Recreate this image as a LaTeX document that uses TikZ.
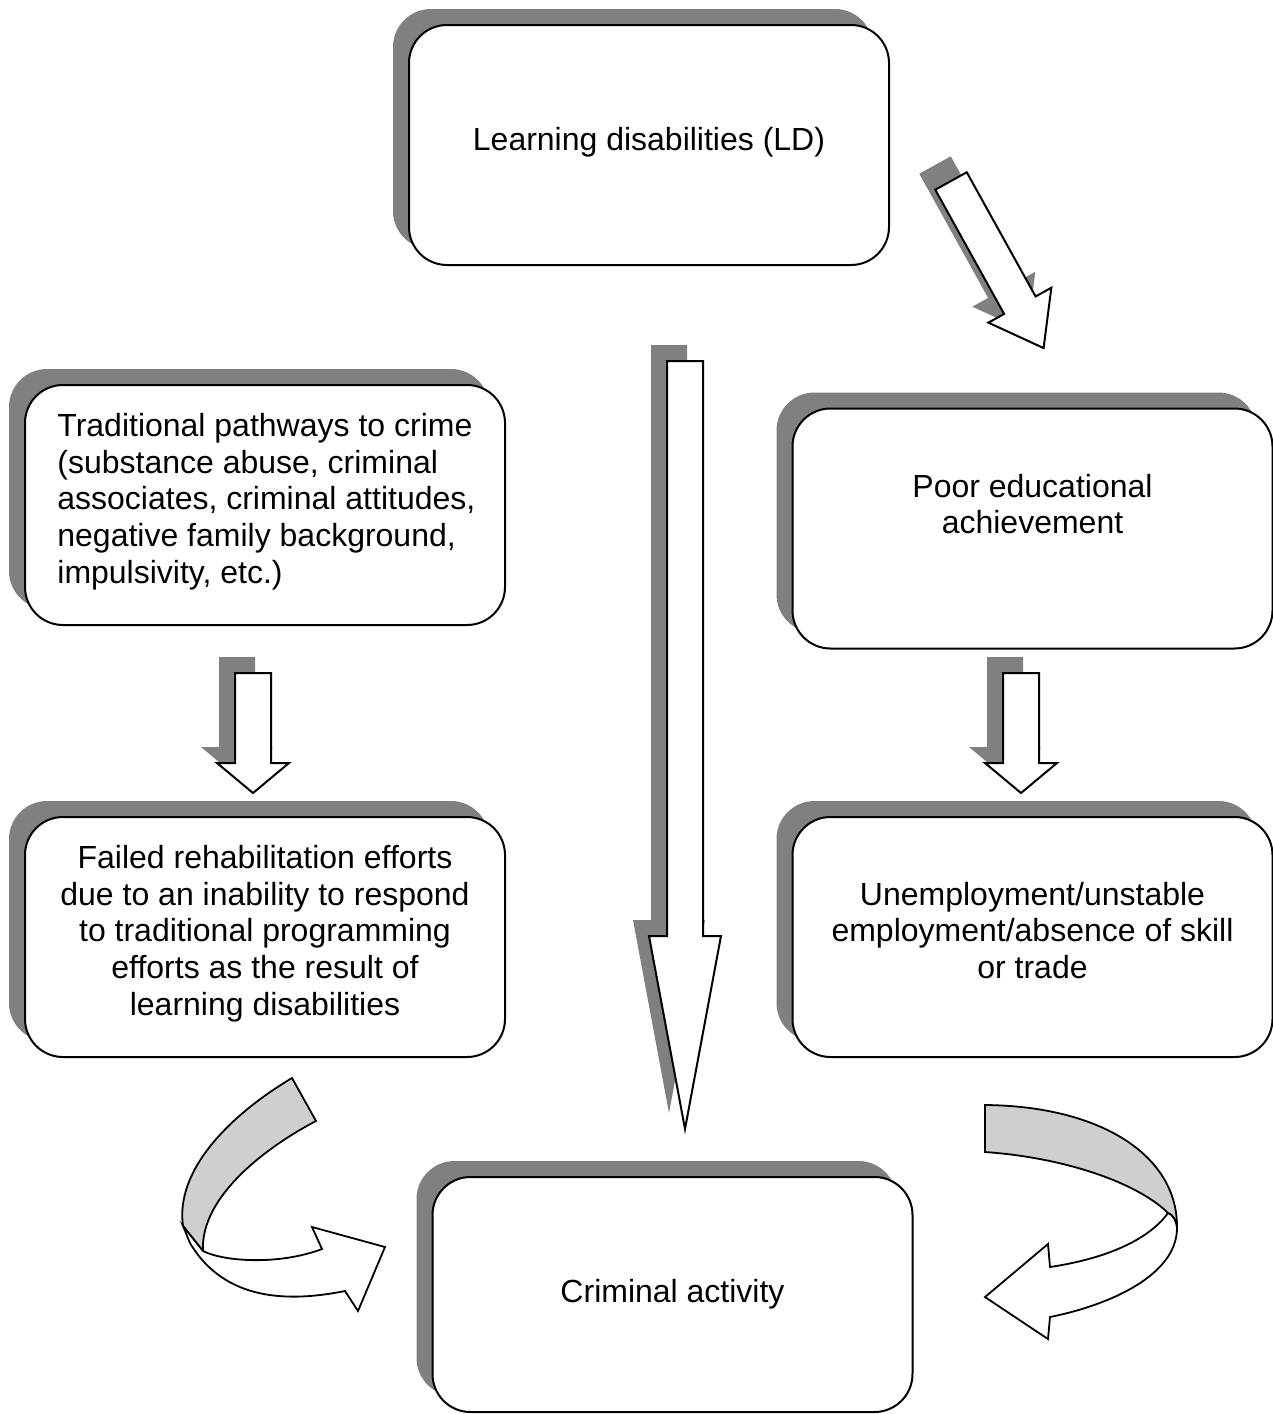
\documentclass[tikz,border=0pt]{standalone}
\usepackage{fontspec}
\setmainfont{Liberation Sans}
\usetikzlibrary{shadows}

\definecolor{shadowgray}{HTML}{808080}
\definecolor{bandgray}{HTML}{CFCFCF}

% block arrow: start point, angle, shaft length, head length
\newcommand\blockarrow[4]{%
  \fill[shadowgray,shift={#1},shift={(-16,-16)},rotate=#2]
    (-18,0) -- (-18,#3) -- (-36,#3) -- (0,#3+#4) -- (36,#3) -- (18,#3) -- (18,0) -- cycle;
  \draw[arrowbody,shift={#1},rotate=#2]
    (-18,0) -- (-18,#3) -- (-36,#3) -- (0,#3+#4) -- (36,#3) -- (18,#3) -- (18,0) -- cycle;
}

\begin{document}
\begin{tikzpicture}[x=0.5pt, y=-0.5pt,
      every node/.append style={font=\fontsize{16}{18.35}\selectfont},
      arrowbody/.style={draw, fill=white, line width=1pt, line join=miter},
      curl/.style={draw, line width=0.9pt, line join=miter}]
    \tikzstyle{box} = [draw, line width=1pt, fill=white, rounded corners=19pt,
      minimum width=240pt, minimum height=120pt, inner sep=0pt,
      drop shadow={shadow xshift=-8pt, shadow yshift=8pt, fill=shadowgray, opacity=1}]
    \tikzstyle{txt} = [align=center, inner sep=0pt]
    \useasboundingbox (0,0) rectangle (1273,1414);

    % boxes
    \node [box] (ld) at (649,145) {};
    \node [box] (trad) at (265,505) {};
    \node [box] (poor) at (1032.5,528.5) {};
    \node [box] (failed) at (265,937) {};
    \node [box] (unemp) at (1032.5,937) {};
    \node [box, minimum height=117.5pt] (crime) at (672.5,1294.5) {};

    % texts
    \node [txt] (ldtext) at (649,142) {Learning disabilities (LD)};
    \node [txt, align=left, anchor=west] (tradtext) at (57,501.5)
      {Traditional pathways to crime\\(substance abuse, criminal\\associates, criminal attitudes,\\negative family background,\\impulsivity, etc.)};
    \node [txt] (poortext) at (1032.5,504) {Poor educational\\achievement};
    \node [txt] (failedtext) at (265,933.5)
      {Failed rehabilitation efforts\\due to an inability to respond\\to traditional programming\\efforts as the result of\\learning disabilities};
    \node [txt] (unemptext) at (1032.5,930.5)
      {Unemployment/unstable\\employment/absence of skill\\or trade};
    \node [txt] (crimetext) at (672.5,1294) {Criminal activity};

    % straight block arrows
    \blockarrow{(951,181)}{29}{142}{49}
    \blockarrow{(685,361)}{0}{575}{193}
    \blockarrow{(253,673)}{0}{90}{30}
    \blockarrow{(1021,673)}{0}{90}{30}

    % left curl
    \path[curl, fill=bandgray] (292,1078) -- (316,1121)
      .. controls (270,1145) and (200,1195) .. (203,1251) -- (183,1226)
      .. controls (175,1170) and (230,1115) .. cycle;
    \path[curl, fill=white] (203,1251)
      .. controls (225,1262) and (280,1265) .. (322,1249)
      -- (312,1227) -- (385,1247) -- (358,1311) -- (345,1291)
      .. controls (290,1302) and (225,1302) .. (190,1243) -- (183,1226) -- cycle;

    % right curl
    \path[curl, fill=bandgray] (985,1105)
      .. controls (1100,1106) and (1178,1155) .. (1177,1228)
      .. controls (1176,1220) and (1173,1215) .. (1168,1213)
      .. controls (1140,1185) and (1070,1158) .. (985,1152) -- cycle;
    \path[curl, fill=white] (1168,1213)
      .. controls (1150,1238) and (1110,1258) .. (1050,1267)
      -- (1048,1244) -- (985,1297) -- (1048,1339) -- (1050,1317)
      .. controls (1110,1305) and (1177,1275) .. (1177,1228)
      .. controls (1176,1220) and (1173,1215) .. cycle;
\end{tikzpicture}
\end{document}
